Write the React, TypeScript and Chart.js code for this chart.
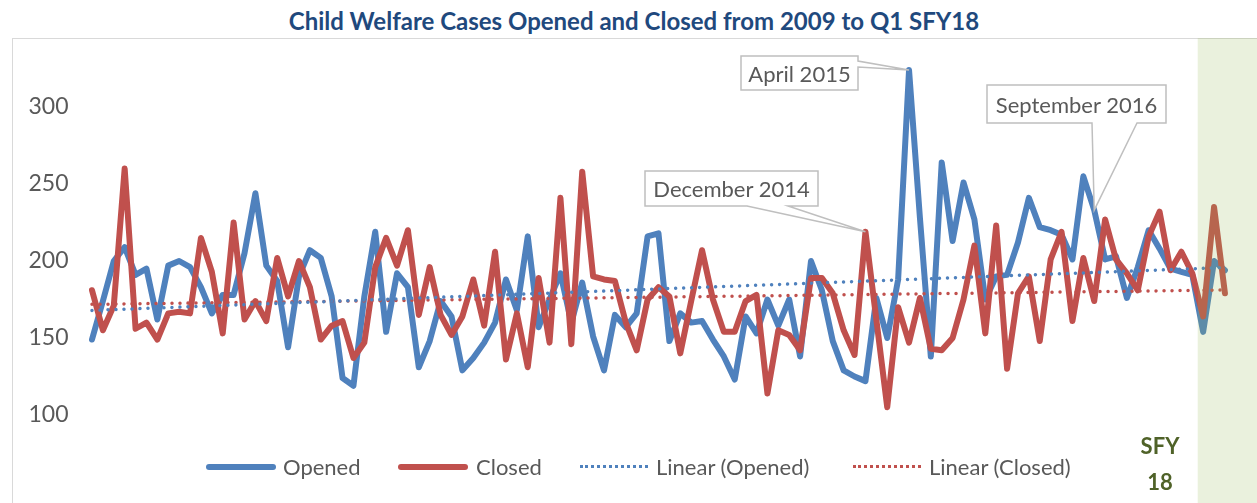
import React, { useEffect, useRef } from "react";
import { Chart, registerables } from "chart.js";

Chart.register(...registerables);

const YEARS = [2009, 2010, 2011, 2012, 2013, 2014, 2015, 2016, 2017];
const MONTHS = ["Jan", "Feb", "Mar", "Apr", "May", "Jun", "Jul", "Aug", "Sep", "Oct", "Nov", "Dec"];
const POINT_COUNT = 105; // Jan 2009 .. Sep 2017 (Q1 SFY18)

const categories: string[] = [];
for (const y of YEARS) for (const m of MONTHS) if (categories.length < POINT_COUNT) categories.push(`${m} ${y}`);

const opened = [
  149, 174, 200, 209, 191, 195, 162, 197, 200, 196, 183, 166,
  178, 178, 205, 244, 197, 187, 144, 190, 207, 202, 177, 124,
  119, 177, 219, 154, 192, 183, 131, 148, 174, 164, 129, 137,
  147, 160, 188, 168, 216, 157, 175, 192, 160, 186, 151, 129,
  165, 157, 166, 216, 218, 148, 166, 160, 161, 149, 138, 123,
  164, 153, 175, 158, 175, 138, 200, 181, 148, 129, 125, 122,
  176, 150, 188, 324, 228, 138, 264, 213, 251, 227, 175, 190,
  191, 212, 241, 222, 220, 217, 201, 255, 233, 201, 203, 176,
  196, 220, 208, 195, 193, 191, 154, 200, 194,
];

const closed = [
  181, 155, 171, 260, 156, 160, 149, 166, 167, 166, 215, 193,
  153, 225, 162, 174, 161, 202, 177, 200, 183, 149, 158, 161,
  137, 147, 196, 215, 197, 220, 165, 196, 165, 152, 164, 188,
  158, 206, 136, 166, 131, 189, 147, 241, 146, 258, 190, 188,
  187, 160, 142, 175, 183, 177, 140, 174, 207, 175, 154, 154,
  174, 178, 114, 155, 152, 142, 189, 189, 179, 155, 139, 219,
  162, 105, 170, 147, 176, 143, 142, 150, 175, 210, 153, 223,
  130, 179, 190, 148, 201, 219, 161, 202, 174, 227, 201, 192,
  181, 216, 232, 194, 206, 192, 164, 235, 179,
];

const yTicks = [100, 150, 200, 250, 300];
const seriesNames = ["Opened", "Closed", "Linear (Opened)", "Linear (Closed)"];
const shadedFromIndex = 102; // Jul 2017 = start of SFY18
const shadedLabel = ["SFY", "18"];

const BLUE = "#4F81BD";
const RED = "#C0504D";
const TEXT = "#595959";
const FONT = "Lato, 'Open Sans', sans-serif";

// Excel style linear trendline (least squares on the series)
function linearTrend(values: number[]): number[] {
  const n = values.length;
  let sx = 0, sy = 0, sxx = 0, sxy = 0;
  values.forEach((v, i) => { sx += i; sy += v; sxx += i * i; sxy += i * v; });
  const b = (n * sxy - sx * sy) / (n * sxx - sx * sx);
  const a = (sy - b * sx) / n;
  return values.map((_, i) => a + b * i);
}

type Callout = {
  text: string;
  box: [number, number, number, number];
  side: "bottom" | "right";
  wedge: [number, number];
  series: "opened" | "closed";
  index: number;
};

const CALLOUTS: Callout[] = [
  { text: "December 2014", box: [645, 171, 818, 206], side: "bottom", wedge: [747, 788], series: "closed", index: 71 },
  { text: "April 2015", box: [741, 56, 858, 90], side: "right", wedge: [61, 67], series: "opened", index: 75 },
  { text: "September 2016", box: [987, 85, 1166, 123], side: "bottom", wedge: [1092, 1137], series: "opened", index: 92 },
];

const overlayPlugin = {
  id: "overlayPlugin",
  afterDatasetsDraw(chart: any) {
    const { ctx, scales } = chart;
    const xs = scales.x;
    const ys = scales.y;
    // shaded SFY18 region
    const left = xs.getPixelForValue(shadedFromIndex - 0.5);
    ctx.save();
    ctx.fillStyle = "rgba(150,185,85,0.2)";
    ctx.fillRect(left, 38, chart.width - left, chart.height - 38);
    ctx.restore();

    // callouts
    for (const c of CALLOUTS) {
      const vals = c.series === "opened" ? opened : closed;
      const tx = xs.getPixelForValue(c.index);
      const ty = ys.getPixelForValue(vals[c.index]);
      const [L, T, R, B] = c.box;
      ctx.save();
      ctx.beginPath();
      ctx.moveTo(L, T);
      ctx.lineTo(R, T);
      if (c.side === "right") {
        ctx.lineTo(R, c.wedge[0]);
        ctx.lineTo(tx, ty);
        ctx.lineTo(R, c.wedge[1]);
        ctx.lineTo(R, B);
        ctx.lineTo(L, B);
      } else {
        ctx.lineTo(R, B);
        ctx.lineTo(c.wedge[1], B);
        ctx.lineTo(tx, ty);
        ctx.lineTo(c.wedge[0], B);
        ctx.lineTo(L, B);
      }
      ctx.closePath();
      ctx.fillStyle = "#FFFFFF";
      ctx.fill();
      ctx.strokeStyle = "#BFBFBF";
      ctx.lineWidth = 1.5;
      ctx.lineJoin = "miter";
      ctx.stroke();
      ctx.restore();
    }
  },
};

export default function App() {
  const canvasRef = useRef<HTMLCanvasElement | null>(null);

  useEffect(() => {
    if (!canvasRef.current) return;
    const chart = new Chart(canvasRef.current, {
      type: "line",
      data: {
        labels: categories,
        datasets: [
          {
            label: seriesNames[0], data: opened, borderColor: BLUE, borderWidth: 6,
            pointRadius: 0, tension: 0, borderJoinStyle: "round", borderCapStyle: "round", order: 3,
          },
          {
            label: seriesNames[1], data: closed, borderColor: RED, borderWidth: 6,
            pointRadius: 0, tension: 0, borderJoinStyle: "round", borderCapStyle: "round", order: 2,
          },
          {
            label: seriesNames[2], data: linearTrend(opened), borderColor: BLUE, borderWidth: 3.5,
            borderDash: [0.001, 8], borderCapStyle: "round", pointRadius: 0, order: 0,
          },
          {
            label: seriesNames[3], data: linearTrend(closed), borderColor: RED, borderWidth: 3.5,
            borderDash: [0.001, 8], borderCapStyle: "round", pointRadius: 0, order: 1,
          },
        ],
      },
      options: {
        responsive: false,
        animation: false,
        layout: { padding: { left: 0, right: 26.6, top: 45.4, bottom: 57.2 } },
        plugins: {
          legend: { display: false },
          title: { display: false },
          tooltip: { enabled: false },
        },
        scales: {
          x: { type: "category", offset: true, display: false },
          y: {
            min: 80,
            max: 340,
            afterFit: (s: any) => { s.width = 86.55; },
            afterBuildTicks: (s: any) => { s.ticks = yTicks.map((v) => ({ value: v })); },
            grid: { display: false, drawTicks: false },
            border: { display: false },
            ticks: { padding: 18, color: TEXT, font: { family: FONT, size: 23 } },
          },
        },
      } as any,
      plugins: [overlayPlugin],
    });
    return () => chart.destroy();
  }, []);

  const legendText: React.CSSProperties = {
    position: "absolute", top: 453, fontFamily: FONT, fontSize: 22, color: TEXT, lineHeight: "28px", whiteSpace: "nowrap",
  };
  const solid = (left: number, color: string): React.CSSProperties => ({
    position: "absolute", left, top: 464, width: 70, height: 6, borderRadius: 3, background: color,
  });
  const dotted = (left: number, color: string): React.CSSProperties => ({
    position: "absolute", left, top: 465, width: 68, height: 0, borderTop: `3.5px dotted ${color}`,
  });

  return (
    <div style={{ position: "fixed", left: 0, top: 0, width: 1257, height: 503, overflow: "hidden", background: "#fff" }}>
      <div style={{ position: "absolute", left: 12, top: 38, width: 1300, height: 520, border: "1.5px solid #D9D9D9", boxSizing: "border-box" }} />
      <div style={{
        position: "absolute", left: 0, width: 1268, top: 5, textAlign: "center", fontFamily: FONT,
        fontWeight: 700, fontSize: 24, color: "#1F497D", lineHeight: "32px", whiteSpace: "nowrap",
      }}>
        Child Welfare Cases Opened and Closed from 2009 to Q1 SFY18
      </div>
      <canvas ref={canvasRef} width={1257} height={503} style={{ position: "absolute", left: 0, top: 0, width: 1257, height: 503 }} />
      {CALLOUTS.map((c) => (
        <div key={c.text} style={{
          position: "absolute", left: c.box[0], top: c.box[1], width: c.box[2] - c.box[0], height: c.box[3] - c.box[1],
          display: "flex", alignItems: "center", justifyContent: "center", fontFamily: FONT, fontSize: 22, color: TEXT, whiteSpace: "nowrap",
        }}>{c.text}</div>
      ))}
      <div style={solid(206, BLUE)} />
      <div style={{ ...legendText, left: 283 }}>{seriesNames[0]}</div>
      <div style={solid(398, RED)} />
      <div style={{ ...legendText, left: 476 }}>{seriesNames[1]}</div>
      <div style={dotted(580, BLUE)} />
      <div style={{ ...legendText, left: 656 }}>{seriesNames[2]}</div>
      <div style={dotted(853, RED)} />
      <div style={{ ...legendText, left: 929 }}>{seriesNames[3]}</div>
      <div style={{
        position: "absolute", left: 1120, width: 80, top: 428, textAlign: "center", fontFamily: FONT,
        fontWeight: 700, fontSize: 22, color: "#4F6228", lineHeight: "36px",
      }}>
        {shadedLabel[0]}<br />{shadedLabel[1]}
      </div>
    </div>
  );
}
